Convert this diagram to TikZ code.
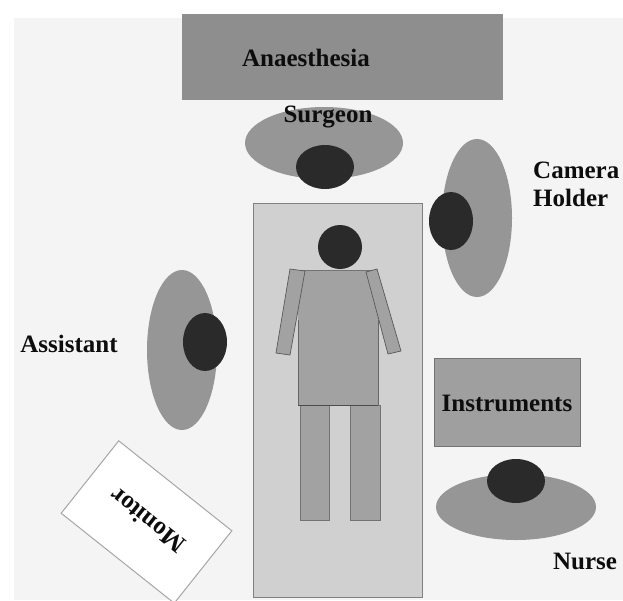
\documentclass[tikz,border=0pt]{standalone}
\usepackage{fontspec}
\usetikzlibrary{shapes.geometric}
\setmainfont{Liberation Serif}
\definecolor{paper}{HTML}{F4F4F4}
\definecolor{blockgray}{HTML}{8E8E8E}
\definecolor{ellgray}{HTML}{969696}
\definecolor{headgray}{HTML}{2A2A2A}
\definecolor{tablegray}{HTML}{D0D0D0}
\definecolor{bodygray}{HTML}{A2A2A2}
\tikzset{
  person/.style={ellipse,fill=ellgray,draw=none,inner sep=0pt},
  headshape/.style={ellipse,fill=headgray,draw=none,inner sep=0pt},
  blockbox/.style={rectangle,fill=blockgray,draw=none,inner sep=0pt},
  lab/.style={font=\fontsize{25}{28}\selectfont\bfseries,align=center,text=black!95,inner sep=0pt},
  bodypart/.style={fill=bodygray,draw=black!65,line width=0.7pt},
}
\begin{document}
\begin{tikzpicture}[x=1pt,y=-1pt]
\useasboundingbox (0,0) rectangle (623,600);
\fill[white] (0,0) rectangle (623,600);
\fill[paper] (14,18) rectangle (623,600);
% anaesthesia
\node[blockbox,minimum width=321pt,minimum height=86pt] (anaesthesia) at (342.5,57) {};
\node[lab] (anaesthesialabel) at (306,58) {Anaesthesia};
% table
\node[rectangle,fill=tablegray,draw=black!50,line width=0.9pt,minimum width=169pt,minimum height=394pt,inner sep=0pt] (table) at (337.5,400) {};
% surgeon
\node[person,minimum width=158pt,minimum height=72pt] (surgeon) at (324,143) {};
\node[headshape,minimum width=58pt,minimum height=44pt] (surgeonhead) at (325,167) {};
\node[lab] (surgeonlabel) at (328,117) {Surgeon};
% camera holder
\node[person,minimum width=70pt,minimum height=158pt] (camera) at (477,218) {};
\node[headshape,minimum width=44pt,minimum height=58pt] (camerahead) at (451,221) {};
\node[lab,align=left,anchor=west] (cameralabel) at (533,184) {Camera\\Holder};
% assistant
\node[person,minimum width=70pt,minimum height=160pt] (assistant) at (182,350) {};
\node[headshape,minimum width=44pt,minimum height=58pt] (assistanthead) at (205,342) {};
\node[lab] (assistantlabel) at (69,344) {Assistant};
% patient
\fill[bodygray] (298,270) rectangle (378,405);
\draw[black!55,line width=0.5pt] (298,270) -- (378,270);
\draw[black!60,line width=0.5pt] (298,405) -- (298,320) (378,405) -- (378,320);
\draw[bodypart] (290,269) -- (305,271) -- (290,355) -- (276,353) -- cycle;
\draw[bodypart] (366,272) -- (377,269) -- (401,351) -- (388,354) -- cycle;
\draw[bodypart,draw=black!55] (300,405) rectangle (329,520);
\draw[bodypart,draw=black!55] (350,405) rectangle (380,520);
\draw[black!70,line width=0.8pt] (298,405) -- (378,405);
\node[headshape,minimum width=44pt,minimum height=44pt] (patienthead) at (340,247) {};
% instruments
\node[rectangle,fill=blockgray!85,draw=black!55,line width=0.7pt,minimum width=146pt,minimum height=88pt,inner sep=0pt] (instruments) at (507,402) {};
\node[lab] (instrumentslabel) at (507,403) {Instruments};
% nurse
\node[person,minimum width=160pt,minimum height=66pt] (nurse) at (516,507) {};
\node[headshape,minimum width=58pt,minimum height=44pt] (nursehead) at (516,481) {};
\node[lab] (nurselabel) at (585,561) {Nurse};
% monitor
\node[rectangle,fill=white,draw=black!35,line width=1pt,minimum width=144.5pt,minimum height=92.5pt,inner sep=0pt,rotate=-38.5] (monitor) at (146.5,522) {};
\node[lab,rotate=141.5] (monitorlabel) at (147,521) {Monitor};
\end{tikzpicture}
\end{document}
